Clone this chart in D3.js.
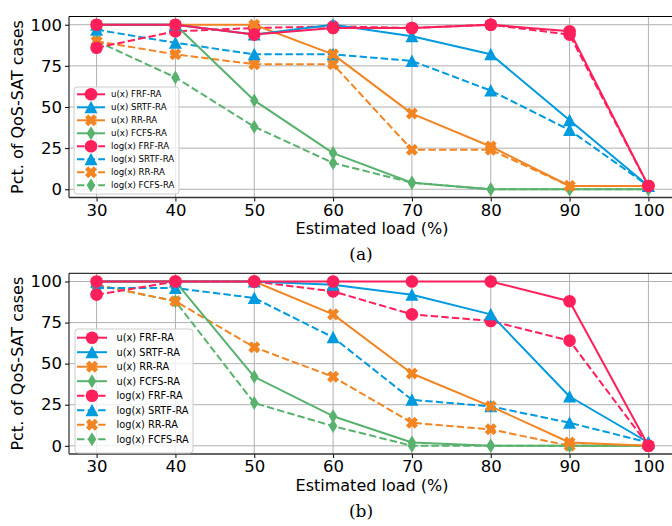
<!DOCTYPE html>
<html><head><meta charset="utf-8">
<script src="https://cdn.jsdelivr.net/npm/d3@7"></script>
<style>body{margin:0;background:#fff}svg{display:block}</style>
</head><body>
<svg id="c" width="672" height="526"></svg>
<script>
const loads = [30, 40, 50, 60, 70, 80, 90, 100];
const yTicks = [0, 25, 50, 75, 100];
const seriesNames = ["u(x) FRF-RA","u(x) SRTF-RA","u(x) RR-RA","u(x) FCFS-RA","log(x) FRF-RA","log(x) SRTF-RA","log(x) RR-RA","log(x) FCFS-RA"];
// chart (a)
const aUFRF   = [100,100, 94, 98, 98,100, 96, 2];
const aUSRTF  = [100,100, 94,100, 93, 82, 42, 2];
const aURR    = [100,100,100, 82, 46, 26,  2, 2];
const aUFCFS  = [100,100, 54, 22,  4,  0,  0, 0];
const aLFRF   = [ 86, 96, 98, 99, 98,100, 94, 2];
const aLSRTF  = [ 97, 89, 82, 82, 78, 60, 36, 2];
const aLRR    = [ 90, 82, 76, 76, 24, 24,  2, 2];
const aLFCFS  = [ 90, 68, 38, 16,  4,  0,  0, 0];
// chart (b)
const bUFRF   = [100,100,100,100,100,100, 88, 0];
const bUSRTF  = [100,100,100, 98, 92, 80, 30, 2];
const bURR    = [100,100,100, 80, 44, 24,  2, 0];
const bUFCFS  = [100,100, 42, 18,  2,  0,  0, 0];
const bLFRF   = [ 92,100,100, 94, 80, 76, 64, 0];
const bLSRTF  = [ 96, 96, 90, 66, 28, 24, 14, 2];
const bLRR    = [ 98, 88, 60, 42, 14, 10,  0, 0];
const bLFCFS  = [ 98, 88, 26, 12,  0,  0,  0, 0];

const colors = ["#ff1f5b","#009ade","#f28522","#58b26e"];
const markers = ["circle","triangle","x","diamond"];

function markerPath(type){
  if(type==="circle"){ return d3.symbol(d3.symbolCircle, Math.PI*6.3*6.3)(); }
  if(type==="triangle"){ return "M0,-6.5L6.5,6L-6.5,6Z"; }
  if(type==="diamond"){ return "M0,-7L4.3,0L0,7L-4.3,0Z"; }
  const t=2.3, L=6.2;
  const pts=[[t,L],[t,t],[L,t],[L,-t],[t,-t],[t,-L],[-t,-L],[-t,-t],[-L,-t],[-L,t],[-t,t],[-t,L]];
  const c=Math.SQRT1_2;
  return "M"+pts.map(p=>[(p[0]-p[1])*c,(p[0]+p[1])*c].map(v=>v.toFixed(2)).join(",")).join("L")+"Z";
}

const svg = d3.select("#c");

function drawChart(cfg){
  const {top, bottom, data, legend, caption} = cfg;
  const left = 69, right = 676;
  const x = d3.scaleLinear().domain([26.5,103.5]).range([left,right]);
  const y = d3.scaleLinear().domain([-5,105]).range([bottom,top]);
  const g = svg.append("g");
  g.append("g").selectAll("line.v").data(loads).join("line")
    .attr("x1",d=>x(d)).attr("x2",d=>x(d)).attr("y1",top).attr("y2",bottom)
    .attr("stroke","#b0b0b0").attr("stroke-width",1);
  g.append("g").selectAll("line.h").data(yTicks).join("line")
    .attr("x1",left).attr("x2",right).attr("y1",d=>y(d)).attr("y2",d=>y(d))
    .attr("stroke","#b0b0b0").attr("stroke-width",1);
  const xa = g.append("g").attr("transform",`translate(0,${bottom})`)
    .call(d3.axisBottom(x).tickValues(loads).tickSize(4).tickPadding(2.5).tickFormat(d3.format("d")));
  const ya = g.append("g").attr("transform",`translate(${left},0)`)
    .call(d3.axisLeft(y).tickValues(yTicks).tickSize(4).tickPadding(3).tickFormat(d3.format("d")));
  [xa,ya].forEach(a=>{
    a.select(".domain").remove();
    a.selectAll("text").attr("font-family","DejaVu Sans").attr("font-size","16.5px").attr("fill","#000");
    a.selectAll("line").attr("stroke","#000");
  });
  const order = [7,6,5,4,3,2,1,0];
  order.forEach(i=>{
    const vals = data[i];
    const col = colors[i%4];
    const dashed = i>=4;
    const line = d3.line().x((d,k)=>x(loads[k])).y(d=>y(d));
    const sg = g.append("g");
    sg.append("path").attr("d",line(vals)).attr("fill","none").attr("stroke",col)
      .attr("stroke-width",2).attr("stroke-dasharray",dashed?"7.4,3.2":null)
      .attr("stroke-linejoin","round");
    sg.selectAll("path.m").data(vals).join("path").attr("class","m")
      .attr("d",markerPath(markers[i%4]))
      .attr("transform",(d,k)=>`translate(${x(loads[k])},${y(d)})`)
      .attr("fill",col);
  });
  g.append("line").attr("x1",left).attr("x2",right).attr("y1",top).attr("y2",top).attr("stroke","#000").attr("stroke-width",1);
  g.append("line").attr("x1",left).attr("x2",left).attr("y1",top).attr("y2",bottom).attr("stroke","#000").attr("stroke-width",1);
  g.append("line").attr("x1",left).attr("x2",right).attr("y1",bottom).attr("y2",bottom).attr("stroke","#333").attr("stroke-width",1.6);
  g.append("text").attr("x",372).attr("y",bottom+36.5).attr("text-anchor","middle")
    .attr("font-family","DejaVu Sans").attr("font-size","16px").text("Estimated load (%)");
  g.append("text").attr("transform",`translate(23,${(top+bottom)/2}) rotate(-90)`).attr("text-anchor","middle")
    .attr("font-family","DejaVu Sans").attr("font-size","16px").text("Pct. of QoS-SAT cases");
  g.append("text").attr("x",361).attr("y",bottom+62.5).attr("text-anchor","middle")
    .attr("font-family","DejaVu Serif").attr("font-size","17px").text(caption);
  const L = legend;
  const lg = g.append("g");
  lg.append("rect").attr("x",L.x).attr("y",L.y).attr("width",L.w).attr("height",L.h)
    .attr("rx",3).attr("fill","#fff").attr("fill-opacity",0.8).attr("stroke","#cccccc");
  seriesNames.forEach((name,i)=>{
    const cy = L.row0 + i*L.dy;
    const col = colors[i%4];
    const dashed = i>=4;
    lg.append("line").attr("x1",L.h0).attr("x2",L.h1).attr("y1",cy).attr("y2",cy)
      .attr("stroke",col).attr("stroke-width",2).attr("stroke-dasharray",dashed?"7.4,3.2":null);
    lg.append("path").attr("d",markerPath(markers[i%4])).attr("transform",`translate(${(L.h0+L.h1)/2},${cy})`).attr("fill",col);
    lg.append("text").attr("x",L.tx).attr("y",cy).attr("dy","0.35em")
      .attr("font-family","DejaVu Sans").attr("font-size",L.fs+"px").text(name);
  });
}

drawChart({top:16.5,bottom:197.5,caption:"(a)",
  data:[aUFRF,aUSRTF,aURR,aUFCFS,aLFRF,aLSRTF,aLRR,aLFCFS],
  legend:{x:74,y:87,w:105,h:107,row0:94.3,dy:13,h0:77,h1:105,tx:111,fs:8.6}});
drawChart({top:273.3,bottom:454,caption:"(b)",
  data:[bUFRF,bUSRTF,bURR,bUFCFS,bLFRF,bLSRTF,bLRR,bLFCFS],
  legend:{x:75,y:329,w:118,h:124,row0:337.7,dy:14.5,h0:77,h1:107,tx:116.5,fs:9.8}});
</script>
</body></html>
